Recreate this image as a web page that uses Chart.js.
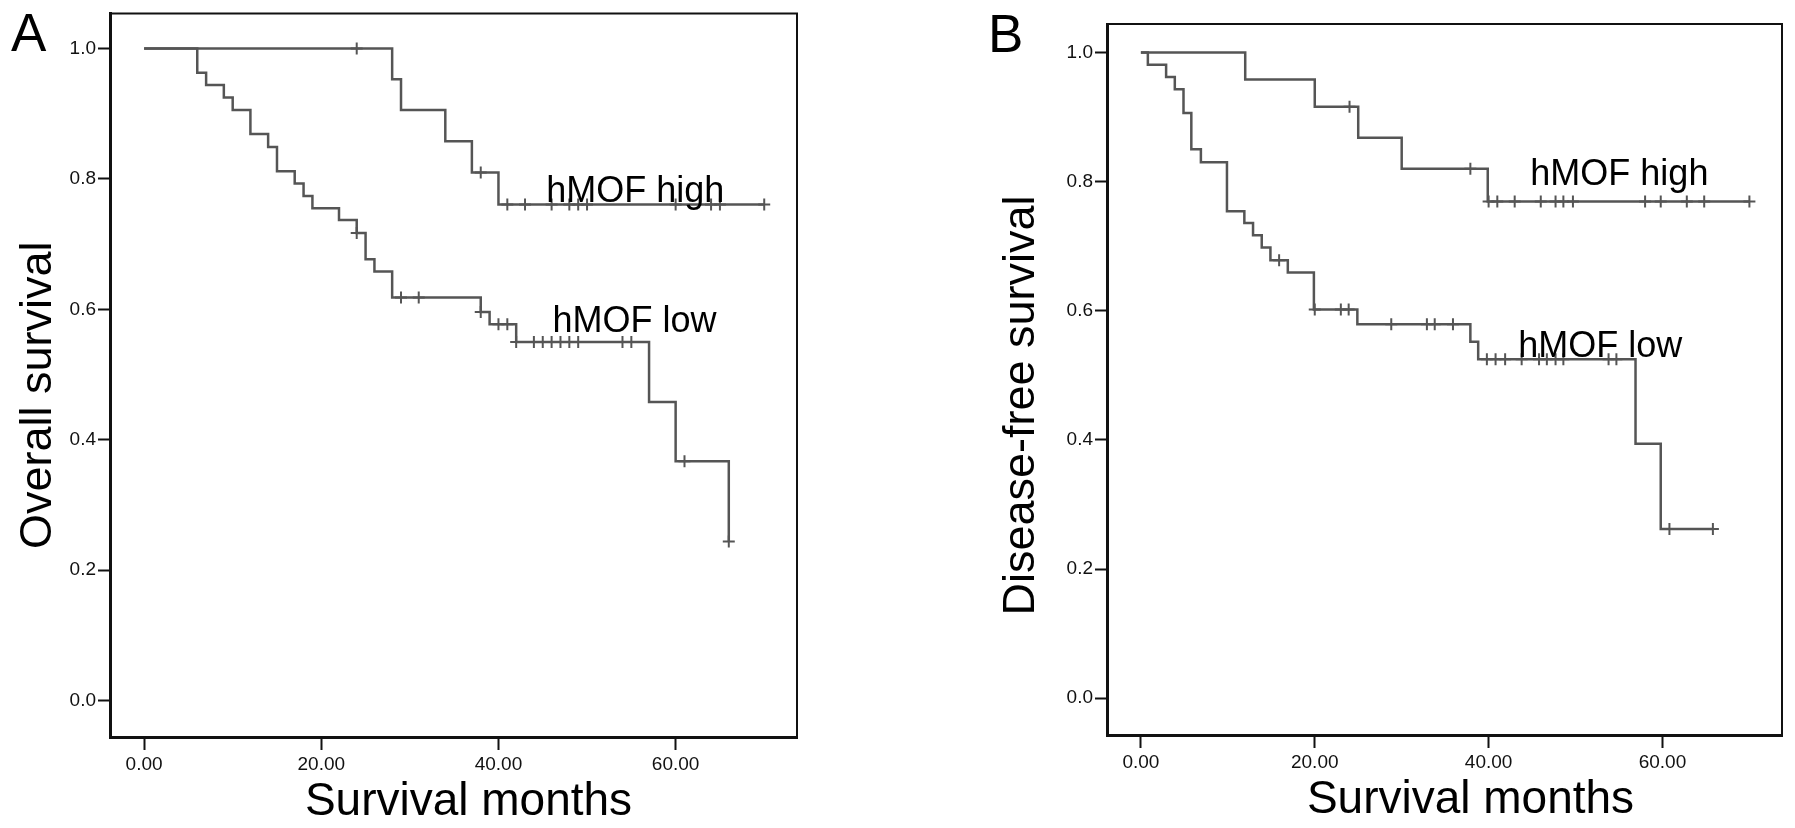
<!DOCTYPE html>
<html>
<head>
<meta charset="utf-8">
<script src="https://cdn.jsdelivr.net/npm/chart.js@4.4.1/dist/chart.umd.min.js"></script>
<style>
  html, body { margin:0; padding:0; background:#fff; width:1795px; height:828px; overflow:hidden; }
  canvas { position:absolute; top:0; }
  #chartA { left:0; }
  #chartB { left:880px; }
</style>
</head>
<body>
<canvas id="chartA" width="880" height="828"></canvas>
<canvas id="chartB" width="915" height="828"></canvas>
<script>
// ---------- axis ticks ----------
const xTickValues = [0, 20, 40, 60];
const xTickLabels = ['0.00', '20.00', '40.00', '60.00'];
const yTickValues = [0, 0.2, 0.4, 0.6, 0.8, 1.0];
const yTickLabels = ['0.0', '0.2', '0.4', '0.6', '0.8', '1.0'];
const groupNames = ['hMOF high', 'hMOF low'];

// ---------- Panel A: overall survival ----------
const osHighEventMonths = [28, 29, 34, 37, 40];
const osHighSurvival    = [0.953, 0.906, 0.858, 0.810, 0.761];
const osHighCensorMonths = [24, 38, 41, 43, 46, 48, 49, 50, 60, 64, 65, 70];

const osLowEventMonths = [6, 7, 9, 10, 12, 14, 15, 17, 18, 19, 22, 24, 25, 26, 28, 38, 39, 42, 57, 60, 66];
const osLowSurvival    = [0.963, 0.944, 0.925, 0.906, 0.869, 0.849, 0.812, 0.793, 0.774, 0.755, 0.737, 0.717, 0.677, 0.658, 0.618, 0.596, 0.577, 0.550, 0.458, 0.367, 0.244];
const osLowCensorMonths = [24, 29, 31, 38, 40, 41, 42, 44, 45, 46, 47, 48, 49, 54, 55, 61, 66];

// ---------- Panel B: disease-free survival ----------
const dfsHighEventMonths = [12, 20, 25, 30, 39.9];
const dfsHighSurvival    = [0.958, 0.916, 0.868, 0.820, 0.769];
const dfsHighCensorMonths = [24, 37.9, 40, 41, 43, 46, 47.7, 48.6, 49.7, 58, 59.8, 62.8, 64.8, 70];

const dfsLowEventMonths = [0.8, 2.9, 3.9, 4.9, 5.8, 6.9, 9.9, 11.9, 12.9, 13.9, 14.9, 16.9, 19.9, 24.9, 37.9, 38.8, 56.9, 59.8];
const dfsLowSurvival    = [0.981, 0.962, 0.943, 0.906, 0.850, 0.830, 0.754, 0.736, 0.717, 0.698, 0.678, 0.659, 0.602, 0.579, 0.552, 0.525, 0.394, 0.262];
const dfsLowCensorMonths = [15.9, 20, 23, 23.9, 28.8, 32.9, 33.8, 35.9, 39.8, 40.8, 41.9, 43.8, 45.8, 46.7, 47.7, 48.6, 53.8, 54.7, 60.8, 65.8];

// curve-label anchors (month, survival) for each panel
const osLabelAnchors  = [[45.4, 0.764], [46.1, 0.566]];
const dfsLabelAnchors = [[44.8, 0.795], [43.4, 0.529]];

// ---------- helpers ----------
function survivalAt(t, months, surv) {
  let s = 1;
  for (let i = 0; i < months.length; i++) if (months[i] <= t) s = surv[i];
  return s;
}
function stepPoints(months, surv, censors) {
  const pts = [{x: 0, y: 1}];
  months.forEach((m, i) => pts.push({x: m, y: surv[i]}));
  const end = Math.max(months[months.length - 1], censors[censors.length - 1]);
  pts.push({x: end, y: survivalAt(end, months, surv)});
  return pts;
}
function censorPoints(months, surv, censors) {
  return censors.map(c => ({x: c, y: survivalAt(c, months, surv)}));
}

const LINE = '#555555';
const FONT = '"Liberation Sans", Arial, Helvetica, sans-serif';

const panelDecor = {
  id: 'panelDecor',
  afterDraw(chart, args, o) {
    const {ctx, chartArea: a, scales} = chart;
    ctx.save();
    // top & right frame
    ctx.strokeStyle = '#111'; ctx.lineWidth = 2;
    ctx.beginPath();
    ctx.moveTo(a.left, a.top); ctx.lineTo(a.right, a.top); ctx.lineTo(a.right, a.bottom);
    ctx.stroke();
    ctx.fillStyle = '#000';
    ctx.textBaseline = 'alphabetic';
    // panel letter
    ctx.font = '53px ' + FONT; ctx.textAlign = 'left';
    ctx.fillText(o.letter, o.letterX, o.letterY);
    // x title
    ctx.font = '46px ' + FONT; ctx.textAlign = 'center';
    ctx.fillText(o.xTitle, (a.left + a.right) / 2 + o.xTitleShift, a.bottom + o.xTitleDrop);
    // y title
    ctx.save();
    ctx.translate(a.left - o.yTitleGap, (a.top + a.bottom) / 2 + o.yTitleShift);
    ctx.rotate(-Math.PI / 2);
    ctx.font = '45px ' + FONT; ctx.textAlign = 'center';
    ctx.fillText(o.yTitle, 0, 0);
    ctx.restore();
    // curve labels
    ctx.font = '36px ' + FONT; ctx.textAlign = 'left';
    o.labels.forEach((l, i) => {
      ctx.fillText(groupNames[i], scales.x.getPixelForValue(l[0]), scales.y.getPixelForValue(l[1]));
    });
    ctx.restore();
  }
};

function makeChart(id, p) {
  const datasets = [];
  p.groups.forEach(g => {
    datasets.push({
      type: 'line', data: stepPoints(g.months, g.surv, g.censors),
      stepped: 'before', borderColor: LINE, borderWidth: 2.5, pointRadius: 0,
      fill: false, borderCapStyle: 'butt', borderJoinStyle: 'miter'
    });
    datasets.push({
      type: 'scatter', data: censorPoints(g.months, g.surv, g.censors),
      pointStyle: 'cross', pointRadius: 6, pointBorderWidth: 2,
      borderColor: LINE, backgroundColor: LINE, showLine: false
    });
  });
  return new Chart(document.getElementById(id), {
    data: { datasets },
    plugins: [panelDecor],
    options: {
      responsive: false, animation: false,
      layout: { padding: { left: 0, top: p.padTop, right: p.padRight, bottom: 0 } },
      plugins: {
        legend: { display: false }, tooltip: { enabled: false },
        panelDecor: p.decor
      },
      scales: {
        x: {
          type: 'linear', min: p.xMin, max: p.xMax,
          afterBuildTicks: s => { s.ticks = xTickValues.map(v => ({value: v})); },
          afterFit: s => { s.height = p.xAxisHeight; },
          ticks: {
            callback: (v, i) => xTickLabels[i], autoSkip: false, maxRotation: 0,
            color: '#111', font: { family: FONT, size: 19 }, padding: 3
          },
          grid: { display: true, drawOnChartArea: false, drawTicks: true, tickLength: 13, tickWidth: 2, tickColor: '#111' },
          border: { display: true, width: 3, color: '#111' },
          title: { display: false }
        },
        y: {
          type: 'linear', min: p.yMin, max: p.yMax,
          afterBuildTicks: s => { s.ticks = yTickValues.map(v => ({value: v})); },
          afterFit: s => { s.width = p.yAxisWidth; },
          ticks: {
            callback: (v, i) => yTickLabels[i], autoSkip: false,
            color: '#111', font: { family: FONT, size: 19 }, padding: 2
          },
          grid: { display: true, drawOnChartArea: false, drawTicks: true, tickLength: 12, tickWidth: 2, tickColor: '#111' },
          border: { display: true, width: 3, color: '#111' },
          title: { display: false }
        }
      }
    }
  });
}

makeChart('chartA', {
  groups: [
    {months: osHighEventMonths, surv: osHighSurvival, censors: osHighCensorMonths},
    {months: osLowEventMonths, surv: osLowSurvival, censors: osLowCensorMonths}
  ],
  xMin: -3.85, xMax: 73.7, yMin: -0.056, yMax: 1.054,
  padTop: 13, padRight: 83, yAxisWidth: 110, xAxisHeight: 91,
  decor: {
    letter: 'A', letterX: 11, letterY: 51,
    xTitle: 'Survival months', xTitleShift: 15, xTitleDrop: 78,
    yTitle: 'Overall survival', yTitleGap: 59, yTitleShift: 20,
    labels: osLabelAnchors
  }
});

makeChart('chartB', {
  groups: [
    {months: dfsHighEventMonths, surv: dfsHighSurvival, censors: dfsHighCensorMonths},
    {months: dfsLowEventMonths, surv: dfsLowSurvival, censors: dfsLowCensorMonths}
  ],
  xMin: -3.9, xMax: 73.75, yMin: -0.057, yMax: 1.044,
  padTop: 24, padRight: 13, yAxisWidth: 227, xAxisHeight: 93,
  decor: {
    letter: 'B', letterX: 108, letterY: 52,
    xTitle: 'Survival months', xTitleShift: 26, xTitleDrop: 78,
    yTitle: 'Disease-free survival', yTitleGap: 73, yTitleShift: 26,
    labels: dfsLabelAnchors
  }
});
</script>
</body>
</html>
